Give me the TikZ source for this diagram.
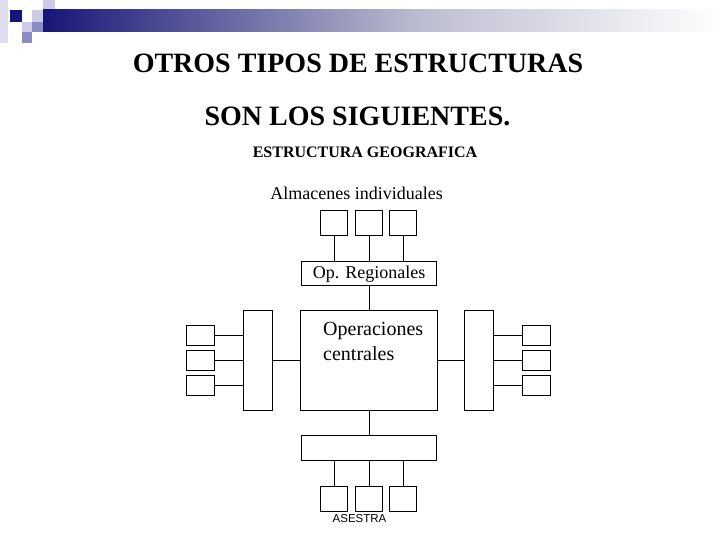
\documentclass[tikz,border=0pt]{standalone}
\usepackage{fontspec}
\setmainfont{Liberation Serif}[BoldFont={Liberation Serif Bold}]
\setsansfont{Liberation Sans}

\definecolor{navy}{RGB}{22,22,118}
\definecolor{lavlight}{RGB}{204,204,230}
\definecolor{lavmid}{RGB}{140,140,196}
\definecolor{lavpale}{RGB}{222,222,240}

\tikzset{
  box/.style={draw, line width=1.4pt, inner sep=0pt, anchor=north west},
  sqtop/.style={box, minimum width=27pt, minimum height=25pt},
  sqside/.style={box, minimum width=28pt, minimum height=20pt},
  tallbox/.style={box, minimum width=29pt, minimum height=100pt},
  widebox/.style={box, minimum width=135pt, minimum height=25pt},
  link/.style={line width=1.4pt},
  txt/.style={inner sep=0pt, anchor=base}
}

\begin{document}
\begin{tikzpicture}[x=1pt,y=-1pt]
      \useasboundingbox (0,0) rectangle (720,540);
      % top decoration
      \fill[lavpale] (0,0) rectangle (8,43);
      \fill[navy] (10,10) rectangle (22,22);
      \fill[lavlight] (32,10) rectangle (43,22);
      \fill[lavlight] (43,0) rectangle (55,10);
      \fill[lavlight] (22,22) rectangle (32,32);
      \fill[lavmid] (32,22) rectangle (43,32);
      \fill[lavmid] (22,32) rectangle (32,43);
      \shade[left color=navy, right color=lavlight!80!gray] (43,10) rectangle (420,32);
      \shade[left color=lavlight!80!gray, right color=white] (420,10) rectangle (720,32);
      % titles
      \node[txt, font=\fontsize{28}{30}\selectfont\bfseries] (title) at (358,73) {OTROS TIPOS DE ESTRUCTURAS};
      \node[txt, font=\fontsize{28}{30}\selectfont\bfseries] (subtitle) at (357.5,126) {SON LOS SIGUIENTES.};
      \node[txt, font=\fontsize{16}{18}\selectfont\bfseries] (geo) at (365,158) {ESTRUCTURA GEOGRAFICA};
      \node[txt, font=\fontsize{18}{20}\selectfont] (alm) at (356.5,200) {Almacenes individuales};
      % top branch
      \node[sqtop] (t1) at (320,210) {};
      \node[sqtop] (t2) at (355,210) {};
      \node[sqtop] (t3) at (389,210) {};
      \node[widebox, minimum height=24pt, font=\fontsize{18}{20}\selectfont] (opr) at (301,261) {Op. Regionales};
      \draw[link] (t1.south) -- (t1.south |- opr.north);
      \draw[link] (t2.south) -- (t2.south |- opr.north);
      \draw[link] (t3.south) -- (t3.south |- opr.north);
      % central
      \node[box, minimum width=137pt, minimum height=100pt] (cen) at (300,310) {};
      \node[inner sep=0pt, anchor=north west, align=left, font=\fontsize{20}{25}\selectfont] (centxt) at (323,322) {Operaciones\\centrales};
      \draw[link] (opr.south) -- (opr.south |- cen.north);
      % left branch
      \node[tallbox] (ltall) at (243,310) {};
      \node[sqside] (l1) at (186,325) {};
      \node[sqside] (l2) at (186,350) {};
      \node[sqside] (l3) at (186,375) {};
      \draw[link] (l1.east) -- (l1.east -| ltall.west);
      \draw[link] (l2.east) -- (l2.east -| ltall.west);
      \draw[link] (l3.east) -- (l3.east -| ltall.west);
      \draw[link] (ltall.east) -- (cen.west);
      % right branch
      \node[tallbox] (rtall) at (464,310) {};
      \node[sqside] (r1) at (522,325) {};
      \node[sqside] (r2) at (522,350) {};
      \node[sqside] (r3) at (522,375) {};
      \draw[link] (r1.west) -- (r1.west -| rtall.east);
      \draw[link] (r2.west) -- (r2.west -| rtall.east);
      \draw[link] (r3.west) -- (r3.west -| rtall.east);
      \draw[link] (cen.east) -- (rtall.west);
      % bottom branch
      \node[widebox] (bot) at (301,435) {};
      \draw[link] (cen.south) -- (cen.south |- bot.north);
      \node[sqtop] (b1) at (320,486) {};
      \node[sqtop] (b2) at (355,486) {};
      \node[sqtop] (b3) at (389,486) {};
      \draw[link] (b1.north) -- (b1.north |- bot.south);
      \draw[link] (b2.north) -- (b2.north |- bot.south);
      \draw[link] (b3.north) -- (b3.north |- bot.south);
      \node[txt, font=\fontsize{11.5}{13}\selectfont\sffamily] (ases) at (359.5,522) {ASESTRA};
\end{tikzpicture}
\end{document}
